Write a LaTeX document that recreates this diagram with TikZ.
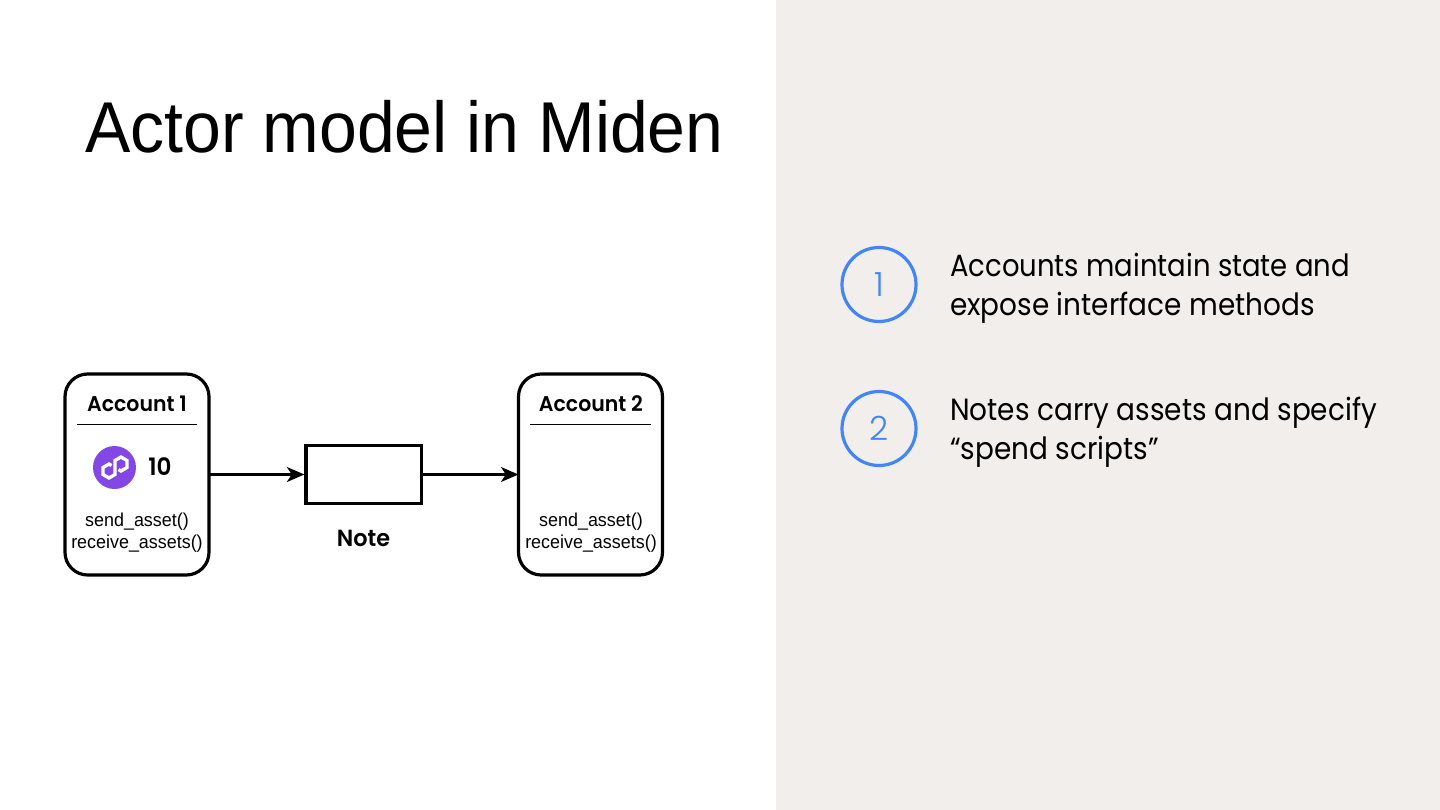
\documentclass[tikz,border=0pt]{standalone}
\usepackage{fontspec}
\setmainfont{Liberation Sans}
\newfontfamily\titlefont[FakeStretch=0.944]{Liberation Sans}
\newfontfamily\methodfont[FakeStretch=0.96]{Liberation Sans}
\newfontfamily\bodyfont[FakeStretch=0.91]{Poppins}
\newfontfamily\bodyfontb[FakeStretch=0.896]{Poppins}
\newfontfamily\ringfont{Poppins Light}
\newfontfamily\headfont[FakeStretch=0.96]{Poppins SemiBold}
\usetikzlibrary{arrows.meta,shapes.geometric}
\definecolor{panel}{HTML}{F1EEEB}
\definecolor{ringblue}{HTML}{4285F4}
\definecolor{polypurple}{HTML}{8247E5}
\tikzset{
  x=0.75pt,y=-0.75pt,
  acct/.style={draw=black,line width=2.4pt,rounded corners=17pt,fill=white,inner sep=0pt},
  notebox/.style={draw=black,line width=2.4pt,fill=white,inner sep=0pt},
  flow/.style={draw=black,line width=2.4pt,-{Stealth[length=13pt,width=11pt,inset=3.5pt]}},
  ring/.style={circle,draw=ringblue,line width=2.4pt,minimum size=55.5pt,inner sep=0pt,text=ringblue,font=\ringfont\fontsize{25}{25}\selectfont},
  body/.style={anchor=base west,inner sep=0pt,font=\bodyfont\fontsize{23}{23}\selectfont},
  head/.style={anchor=base,inner sep=0pt,font=\headfont\fontsize{16}{16}\selectfont},
  method/.style={anchor=base,inner sep=0pt,font=\methodfont\fontsize{14}{14}\selectfont},
}
\begin{document}
\begin{tikzpicture}
\useasboundingbox (0,0) rectangle (1440,810);
\fill[white] (0,0) rectangle (1440,810);
\fill[panel] (776,0) rectangle (1440,810);
\node[anchor=base west,inner sep=0pt,font=\titlefont\fontsize{54}{54}\selectfont] (title) at (85,152) {Actor model in Miden};
% accounts
\draw[acct] (65,374) rectangle (209,575);
\coordinate (a1e) at (209,474.5);
\draw[acct] (518.5,374) rectangle (662.5,575);
\coordinate (a2w) at (518.5,474.5);
\node[notebox,minimum width=86.5pt,minimum height=43pt] (note) at (363.7,474.5) {};
\draw[flow] (a1e) -- (note.west);
\draw[flow] (note.east) -- (a2w);
\node[head] (h1) at (137,411) {Account 1};
\node[head] (h2) at (591,411) {Account 2};
\coordinate (r1a) at (77,424.5); \coordinate (r1b) at (197,424.5);
\coordinate (r2a) at (530,424.5); \coordinate (r2b) at (651,424.5);
\draw[line width=1pt] (r1a) -- (r1b);
\draw[line width=1pt] (r2a) -- (r2b);
\node[head,font=\headfont\fontsize{18}{18}\selectfont] (ten) at (160,475.5) {10};
\node[head,font=\headfont\fontsize{17.5}{17.5}\selectfont] (notelabel) at (363.5,546) {Note};
\node[method] (m1a) at (137,526) {send\_asset()};
\node[method] (m1b) at (137,548) {receive\_assets()};
\node[method] (m2a) at (591,526) {send\_asset()};
\node[method] (m2b) at (591,548) {receive\_assets()};
% polygon logo
\fill[polypurple] (114.5,467.5) circle[radius=21.5];
\draw[white,line width=2.5pt,line join=miter]
 (111.5,465.5) -- (109,464) -- (103,467.5) -- (103,474.5) -- (109,478) -- (115,474.5) -- (115,460.5) -- (121,457) -- (127,460.5) -- (127,467.5) -- (121,471) -- (118.5,469.5);
% right
\node[ring] (r1) at (879,284.5) {1};
\node[ring] (r2) at (879,428.5) {2};
\node[body,font=\bodyfontb\fontsize{23}{23}\selectfont] (t1a) at (950,276) {Accounts maintain state and};
\node[body] (t1b) at (950,315) {expose interface methods};
\node[body] (t2a) at (950,420) {Notes carry assets and specify};
\node[body] (t2b) at (950,459) {“spend scripts”};
\end{tikzpicture}
\end{document}
